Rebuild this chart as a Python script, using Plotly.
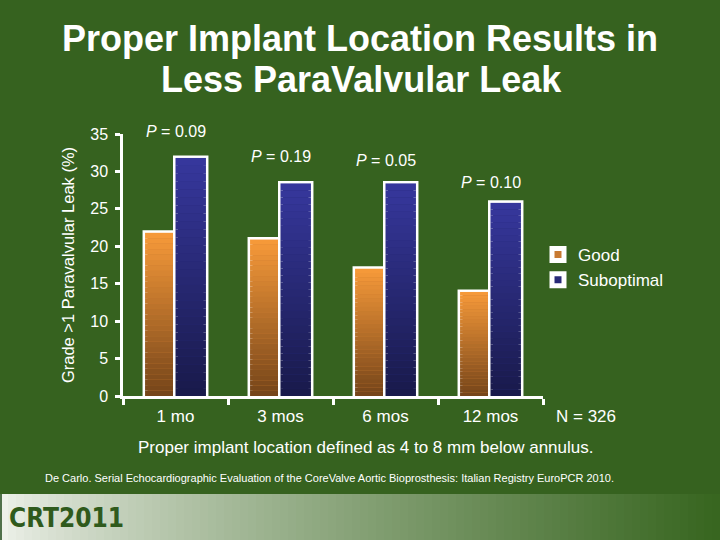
import plotly.graph_objects as go

# ---- data ----
categories = ["1 mo", "3 mos", "6 mos", "12 mos"]
good = [21.8, 20.9, 17.0, 13.9]
suboptimal = [31.8, 28.4, 28.4, 25.8]
p_values = ["0.09", "0.19", "0.05", "0.10"]
y_ticks = [0, 5, 10, 15, 20, 25, 30, 35]

# ---- style ----
BG = "#36621f"
FONT = "Liberation Sans, Arial, sans-serif"
p_label_yshift = [26, 27, 23, 20]  # pixel offset of each P label above its tallest bar
N_SLICES = 30

series = [
    dict(name="Good", values=good, group="g", top=(0xf8, 0x9b, 0x3a), bottom=(0x74, 0x44, 0x1a), mid="#c87a32"),
    dict(name="Suboptimal", values=suboptimal, group="s", top=(0x37, 0x38, 0x9e), bottom=(0x19, 0x1a, 0x4a), mid="#282a78"),
]

fig = go.Figure()
for s in series:
    vals = s["values"]
    # outline bar (white border, legend entry)
    fig.add_trace(go.Bar(
        x=categories, y=vals, name=s["name"], offsetgroup=s["group"],
        marker=dict(color=s["mid"], line=dict(color="white", width=5)),
    ))
    # vertical gradient fill: the same bar split into thin slices
    for k in range(N_SLICES):
        t = (k + 0.5) / N_SLICES  # 0 = bottom, 1 = top
        col = tuple(int(s["bottom"][c] + (s["top"][c] - s["bottom"][c]) * t) for c in range(3))
        fig.add_trace(go.Bar(
            x=categories, y=[v / N_SLICES for v in vals],
            base=[v * k / N_SLICES for v in vals],
            offsetgroup=s["group"], showlegend=False, hoverinfo="skip",
            marker=dict(color="rgb(%d,%d,%d)" % col, line=dict(width=0)),
        ))

# p-value labels above each group
for cat, sv, p, dy in zip(categories, suboptimal, p_values, p_label_yshift):
    fig.add_annotation(
        x=cat, y=sv, xref="x", yref="y", yshift=dy,
        text=f"<i>P</i> = {p}", showarrow=False,
        font=dict(family=FONT, size=16, color="white"),
        yanchor="middle",
    )

PL, PR, PT, PB = 123, 543, 134, 396
PW, PH = PR - PL, PB - PT


def px_x(px):
    return (px - PL) / PW


def px_y(py):
    return (PB - py) / PH


# footer gradient band
shapes = []
n = 90
c0 = (0xee, 0xf1, 0xea)
c1 = (0x38, 0x66, 0x20)
for i in range(n):
    t = i / (n - 1)
    tt = t ** 0.8
    col = tuple(int(c0[k] + (c1[k] - c0[k]) * tt) for k in range(3))
    shapes.append(dict(
        type="rect", xref="paper", yref="paper",
        x0=px_x(720 * i / n), x1=px_x(720 * (i + 1) / n + 1),
        y0=px_y(541), y1=px_y(494),
        fillcolor="rgb(%d,%d,%d)" % col, line=dict(width=0), layer="below",
    ))
shapes.append(dict(
    type="rect", xref="paper", yref="paper",
    x0=px_x(0), x1=px_x(2), y0=px_y(541), y1=px_y(494),
    fillcolor="#50704a", line=dict(width=0), layer="below",
))

annotations_extra = [
    dict(text="<b>Proper Implant Location Results in</b>", x=px_x(360), y=px_y(38),
         font=dict(size=36, color="white", family=FONT)),
    dict(text="<b>Less ParaValvular Leak</b>", x=px_x(361), y=px_y(79),
         font=dict(size=36, color="white", family=FONT)),
    dict(text="N = 326", x=px_x(586), y=px_y(416), font=dict(size=17, color="white", family=FONT)),
    dict(text="Proper implant location defined as 4 to 8 mm below annulus.",
         x=px_x(365), y=px_y(447), font=dict(size=17, color="white", family=FONT)),
    dict(text="De Carlo. Serial Echocardiographic Evaluation of the CoreValve Aortic Bioprosthesis: Italian Registry EuroPCR 2010.",
         x=px_x(329), y=px_y(478), font=dict(size=11, color="white", family=FONT)),
]
for a in annotations_extra:
    fig.add_annotation(xref="paper", yref="paper", showarrow=False,
                       xanchor="center", yanchor="middle", **a)

fig.add_annotation(
    xref="paper", yref="paper", showarrow=False, xanchor="left", yanchor="middle",
    text="<b>CRT2011</b>", x=px_x(7), y=px_y(518),
    font=dict(size=26, color="#2f5a1c",
              family="Liberation Sans Narrow, DejaVu Sans Condensed, sans-serif"),
)

fig.update_layout(
    width=720, height=540,
    paper_bgcolor=BG, plot_bgcolor=BG,
    margin=dict(l=PL, r=720 - PR, t=PT, b=540 - PB),
    barmode="group", bargap=0.42, bargroupgap=0.0,
    font=dict(family=FONT, color="white", size=14),
    shapes=shapes,
    legend=dict(
        x=px_x(538), y=px_y(237), xanchor="left", yanchor="top",
        bgcolor="rgba(0,0,0,0)", font=dict(size=17, color="white", family=FONT),
        itemwidth=30,
    ),
    showlegend=True,
)
fig.update_xaxes(
    showline=True, linecolor="white", linewidth=2.5,
    ticks="outside", tickson="boundaries", ticklen=6, tickwidth=2.5, tickcolor="white",
    tickfont=dict(size=17, color="white"), ticklabelstandoff=3,
    showgrid=False, zeroline=False,
)
fig.update_yaxes(
    range=[0, 35], tickvals=y_ticks,
    showline=True, linecolor="white", linewidth=2.5,
    ticks="outside", ticklen=5, tickwidth=2.5, tickcolor="white",
    tickfont=dict(size=16, color="white"), ticklabelstandoff=4,
    showgrid=False, zeroline=False,
    title=dict(text="Grade >1 Paravalvular Leak (%)", font=dict(size=16.5, color="white"), standoff=12),
)

fig.write_html("out.html", config={"displayModeBar": False},
               post_script="document.body.style.margin='0';")
